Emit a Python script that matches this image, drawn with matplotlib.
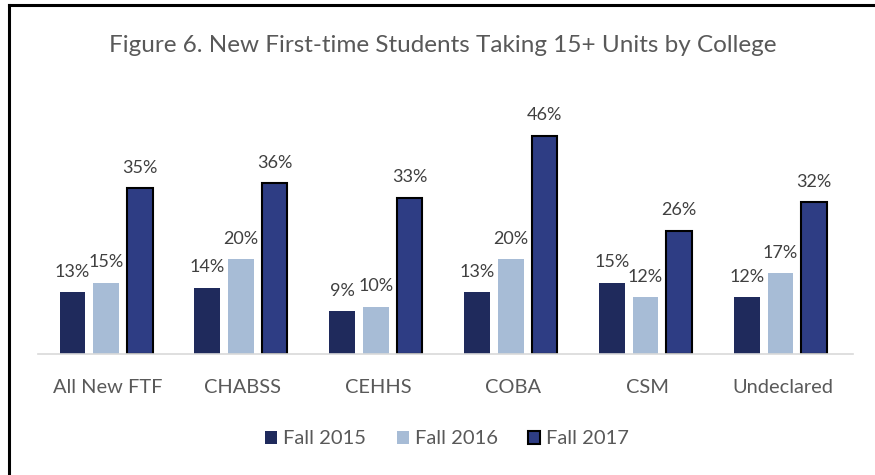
import matplotlib
matplotlib.use("Agg")
import matplotlib.pyplot as plt
import numpy as np

plt.rcParams["font.family"] = ["Lato", "DejaVu Sans"]

colleges = ["All New FTF", "CHABSS", "CEHHS", "COBA", "CSM", "Undeclared"]
fall_2015 = [13, 14, 9, 13, 15, 12]
fall_2016 = [15, 20, 10, 20, 12, 17]
fall_2017 = [35, 36, 33, 46, 26, 32]
series_names = ["Fall 2015", "Fall 2016", "Fall 2017"]

colors = ["#1F2A5C", "#A7BCD6", "#2E3D84"]
edges = ["none", "none", "black"]

fig = plt.figure(figsize=(8.75, 4.75), dpi=100)
ax = fig.add_axes([0.0434, 0.2547, 0.931, 0.499])

x = np.arange(len(colleges))
width = 0.19
step = 0.25
for i, (vals, name) in enumerate(zip([fall_2015, fall_2016, fall_2017], series_names)):
    pos = x + (i - 1) * step - 0.015
    bars = ax.bar(pos, vals, width, color=colors[i], label=name,
                  edgecolor=edges[i], linewidth=1.5 if i == 2 else 0)
    for b, v in zip(bars, vals):
        ax.annotate(f"{v}%", (b.get_x() + b.get_width() / 2, v),
                    xytext=(0, 9), textcoords="offset points",
                    ha="center", va="bottom", fontsize=13, color="#404040")

ax.set_xlim(-0.52, 5.52)
ax.set_ylim(0, 50)
ax.set_xticks(x)
ax.set_xticklabels(colleges, fontsize=14.4, color="#595959")
ax.tick_params(axis="x", length=0, pad=18)
ax.set_yticks([])
for s in ["top", "left", "right"]:
    ax.spines[s].set_visible(False)
ax.spines["bottom"].set_color("#D9D9D9")
ax.spines["bottom"].set_linewidth(1.2)

fig.text(0.506, 0.905, "Figure 6. New First-time Students Taking 15+ Units by College",
         ha="center", va="center", fontsize=17.5, color="#595959")

leg = fig.legend(loc="center", bbox_to_anchor=(0.511, 0.076), ncol=3, frameon=False,
                 fontsize=14.5, handlelength=0.6, handleheight=0.6, columnspacing=1.5,
                 handletextpad=0.3)
for t in leg.get_texts():
    t.set_color("#595959")

# frame lines along top and left edge of the screenshot
fig.add_artist(plt.Line2D([8.5 / 875, 1], [1 - 4.5 / 475] * 2, color="black", lw=2.2))
fig.add_artist(plt.Line2D([8.5 / 875] * 2, [0, 1 - 4.5 / 475], color="black", lw=2.2))

fig.savefig("out.png", dpi=100)
